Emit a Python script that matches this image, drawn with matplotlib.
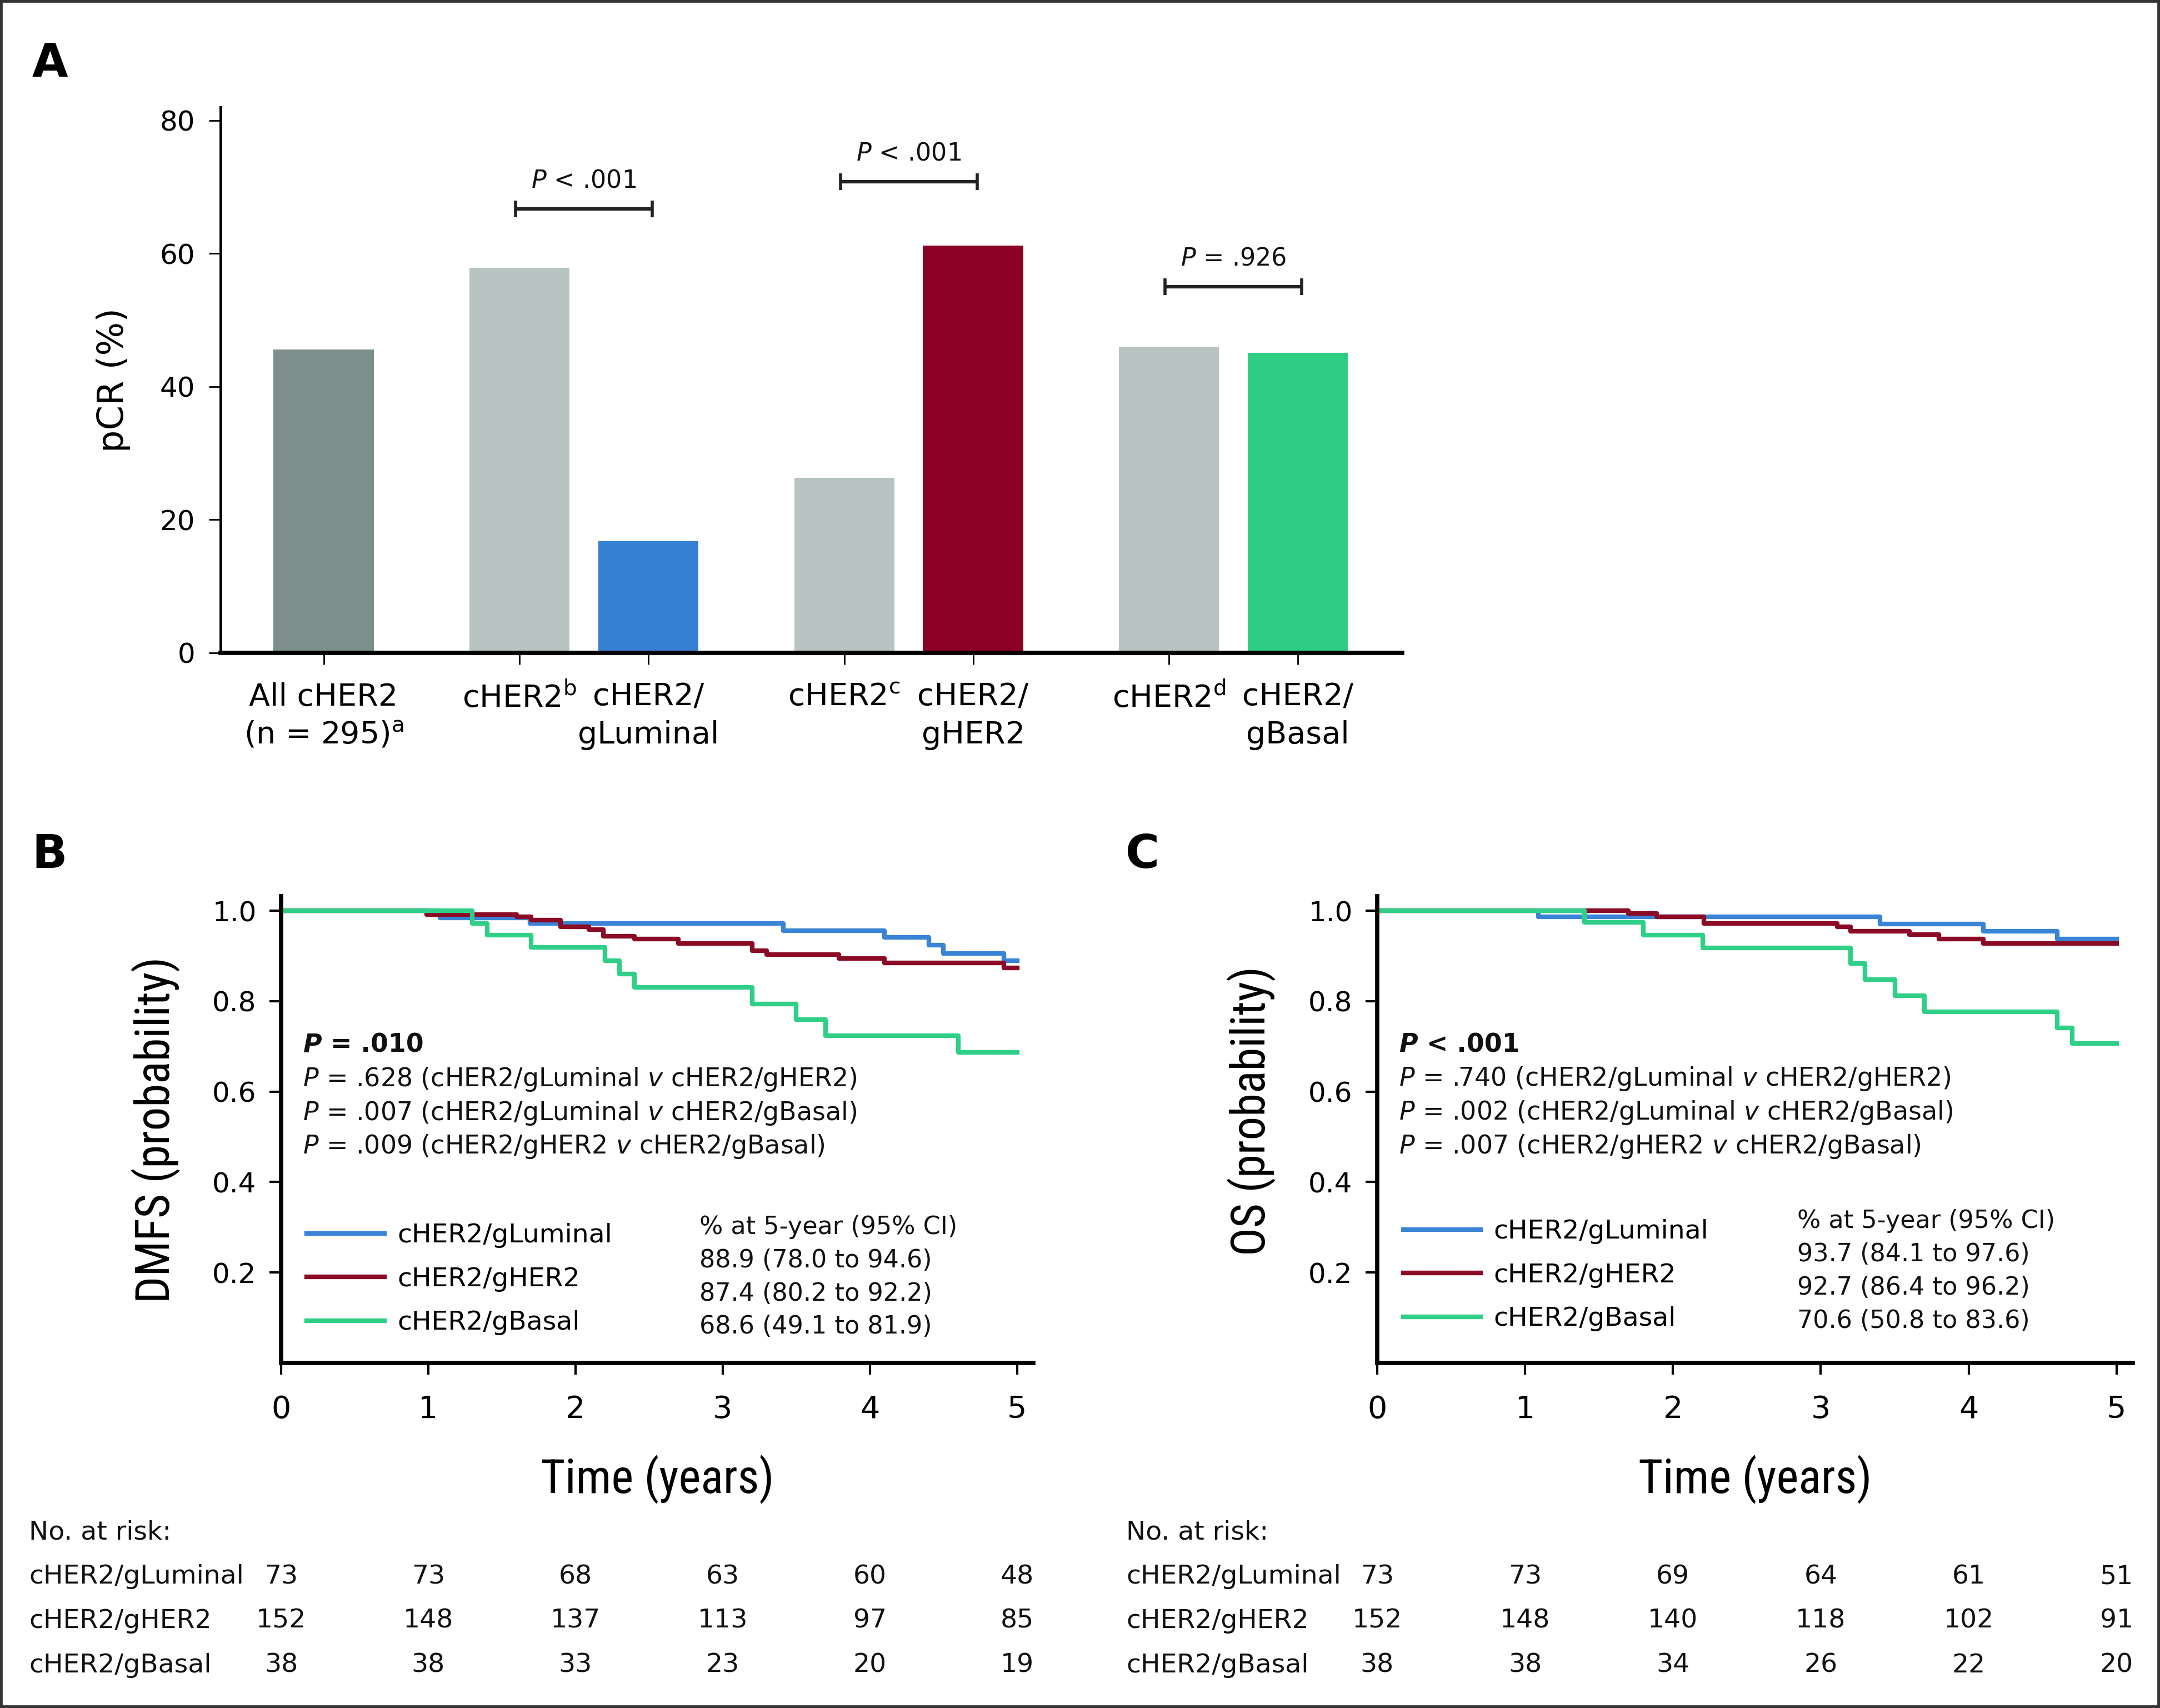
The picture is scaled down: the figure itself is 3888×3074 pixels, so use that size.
import matplotlib
matplotlib.use('Agg')
import matplotlib.pyplot as plt
import matplotlib.transforms as mtransforms
from matplotlib import font_manager
from matplotlib.patches import Rectangle

plt.rcParams['font.family'] = ['DejaVu Sans']
plt.rcParams['mathtext.fontset'] = 'dejavusans'

# ---- panel A data ----
bar_groups = [1, 2, 2, 2]   # bars per group
bar_labels = ['All cHER2\n(n = 295)$^{\\mathrm{a}}$', 'cHER2$^{\\mathrm{b}}$', 'cHER2/\ngLuminal',
              'cHER2$^{\\mathrm{c}}$', 'cHER2/\ngHER2', 'cHER2$^{\\mathrm{d}}$', 'cHER2/\ngBasal']
pcr = [45.6, 57.9, 16.8, 26.3, 61.2, 45.9, 45.1]
bar_colors = ['#7d8e8b', '#b8c4c2', '#3580d4', '#b8c4c2', '#8b0023', '#b8c4c2', '#2ecc85']
brackets = [(1, 2), (3, 4), (5, 6)]
bracket_y = [66.7, 70.8, 55.0]
bracket_p = ['< .001', '< .001', '= .926']

# ---- KM data ----
km_names = ['cHER2/gLuminal', 'cHER2/gHER2', 'cHER2/gBasal']
km_colors = ['#3a84d6', '#8b0a26', '#2fcf88']

dmfs_t = [[0, 1.08, 1.69, 3.41, 4.10, 4.40, 4.50, 4.91, 5.0],
          [0, 0.99, 1.60, 1.70, 1.90, 2.09, 2.19, 2.40, 2.70, 3.20, 3.30, 3.79, 4.10, 4.91, 5.0],
          [0, 1.30, 1.40, 1.70, 2.20, 2.30, 2.40, 3.20, 3.50, 3.70, 4.60, 5.0]]
dmfs_s = [[1.0, 0.984, 0.972, 0.956, 0.941, 0.924, 0.906, 0.889, 0.889],
          [1.0, 0.992, 0.986, 0.979, 0.965, 0.958, 0.944, 0.937, 0.928, 0.911, 0.903, 0.894, 0.884, 0.874, 0.874],
          [1.0, 0.972, 0.946, 0.919, 0.889, 0.860, 0.831, 0.794, 0.759, 0.724, 0.687, 0.687]]

os_t = [[0, 1.09, 3.40, 4.10, 4.60, 5.0],
        [0, 1.70, 1.89, 2.21, 3.11, 3.20, 3.60, 3.80, 4.10, 5.0],
        [0, 1.40, 1.80, 2.20, 3.20, 3.30, 3.50, 3.70, 4.60, 4.70, 5.0]]
os_s = [[1.0, 0.987, 0.971, 0.955, 0.938, 0.938],
        [1.0, 0.994, 0.987, 0.972, 0.965, 0.955, 0.947, 0.938, 0.928, 0.928],
        [1.0, 0.974, 0.946, 0.918, 0.883, 0.848, 0.812, 0.777, 0.741, 0.706, 0.706]]

dmfs_p = ['= .010', '= .628', '= .007', '= .009']
os_p = ['< .001', '= .740', '= .002', '= .007']
p_pairs = ['(cHER2/gLuminal $\\mathit{v}$ cHER2/gHER2)',
           '(cHER2/gLuminal $\\mathit{v}$ cHER2/gBasal)',
           '(cHER2/gHER2 $\\mathit{v}$ cHER2/gBasal)']
dmfs_ci = ['88.9 (78.0 to 94.6)', '87.4 (80.2 to 92.2)', '68.6 (49.1 to 81.9)']
os_ci = ['93.7 (84.1 to 97.6)', '92.7 (86.4 to 96.2)', '70.6 (50.8 to 83.6)']

risk_years = [0, 1, 2, 3, 4, 5]
dmfs_risk = [[73, 73, 68, 63, 60, 48], [152, 148, 137, 113, 97, 85], [38, 38, 33, 23, 20, 19]]
os_risk = [[73, 73, 69, 64, 61, 51], [152, 148, 140, 118, 102, 91], [38, 38, 34, 26, 22, 20]]

W, H = 3888, 3074
ink = '#111111'


# condensed face for the KM axis titles, if one is installed
def pick_narrow():
    for fam in ['Liberation Sans Narrow', 'Noto Sans Condensed', 'Roboto Condensed']:
        try:
            font_manager.findfont(font_manager.FontProperties(family=fam), fallback_to_default=False)
            return fam, 61
        except ValueError:
            pass
    return 'Liberation Sans', 55


narrow, narrow_size = pick_narrow()

fig = plt.figure(figsize=(W / 100, H / 100), dpi=100)

# ================= panel A =================
axA = fig.add_axes([397 / W, 1 - 1175 / H, 2127 / W, 982 / H])
pos = []
x = 0.0
for n in bar_groups:
    for j in range(n):
        pos.append(x + j)
    x += n - 1 + 1.52
axA.bar(pos, pcr, width=0.777, color=bar_colors)
axA.set_xlim(-0.80, 8.37)
axA.set_ylim(0, 82)
axA.set_yticks([0, 20, 40, 60, 80])
axA.set_xticks(pos, bar_labels)
for s in ['top', 'right']:
    axA.spines[s].set_visible(False)
axA.spines['left'].set_linewidth(3.5)
axA.spines['bottom'].set_linewidth(5.5)
axA.tick_params(axis='y', length=15, width=2, labelsize=36, pad=18)
axA.tick_params(axis='x', length=15, width=2, labelsize=40, pad=23)
for t in axA.get_xticklabels():
    t.set_linespacing(1.35)
axA.set_ylabel('pCR (%)', fontsize=46)
axA.yaxis.set_label_coords(-0.076, 0.5)

for (i, j), yb, pt in zip(brackets, bracket_y, bracket_p):
    mid = (pos[i] + pos[j]) / 2
    half = (pos[j] - pos[i]) / 2 + 0.03
    axA.errorbar(mid, yb, xerr=half, fmt='none', ecolor='#222222', elinewidth=4.5,
                 capsize=10.5, capthick=4)
    axA.annotate('$\\mathit{P}$ ' + pt, xy=(mid, yb), xytext=(0, 28), textcoords='offset points',
                 ha='center', va='baseline', fontsize=32, color=ink)


# ================= panels B and C =================
def km_panel(ax, times, survs, ylabel, ylab_y, pvals, ci, y_p, y_ci, y_leg, risk, risk_x0):
    lines = []
    for t, s, c in zip(times, survs, km_colors):
        ln, = ax.step(t, s, where='post', color=c, lw=6)
        lines.append(ln)
    ax.set_xlim(0, 5.11)
    ax.set_ylim(0, 1.032)
    ax.set_xticks([0, 1, 2, 3, 4, 5])
    ax.set_yticks([0.2, 0.4, 0.6, 0.8, 1.0], ['0.2', '0.4', '0.6', '0.8', '1.0'])
    for s in ['top', 'right']:
        ax.spines[s].set_visible(False)
    for s in ['left', 'bottom']:
        ax.spines[s].set_linewidth(5.5)
    ax.tick_params(axis='y', length=15, width=3, labelsize=36, pad=17)
    ax.tick_params(axis='x', length=15, width=3, labelsize=40, pad=26)
    ax.set_xlabel('Time (years)', fontsize=narrow_size, family=narrow)
    ax.xaxis.set_label_coords(0.5, -0.197)
    ax.set_ylabel(ylabel, fontsize=narrow_size, family=narrow)
    ax.yaxis.set_label_coords(-0.134, ylab_y)

    # p values
    step = 0.0748
    t1 = ax.text(0.148, y_p, 'P', fontsize=33, fontweight='bold', style='italic', va='baseline', color=ink)
    ax.annotate(' ' + pvals[0], xy=(1, 0), xycoords=t1, va='bottom', ha='left', fontsize=33,
                fontweight='bold', color=ink)
    for k, (pv, pair) in enumerate(zip(pvals[1:], p_pairs)):
        ax.text(0.148, y_p - (k + 1) * step, '$\\mathit{P}$ ' + pv + ' ' + pair, fontsize=33,
                va='baseline', color=ink)

    # legend + 5-year estimates
    ax.legend(lines, km_names, loc='center left', bbox_to_anchor=(0.175 / 5.11, y_leg / 1.032),
              frameon=False, fontsize=34, handlelength=2.95, handletextpad=0.5, labelspacing=0.71,
              borderpad=0, borderaxespad=0)
    ax.text(2.84, y_ci, '% at 5-year (95% CI)', fontsize=32, va='baseline', color=ink)
    for k, v in enumerate(ci):
        ax.text(2.84, y_ci - (k + 1) * 0.0735, v, fontsize=32, va='baseline', color=ink)

    # number at risk
    tr = mtransforms.blended_transform_factory(ax.transData, fig.transFigure)
    fig.text(risk_x0 / W, 1 - 2758 / H, 'No. at risk:', fontsize=34, va='center', ha='left', color=ink)
    for r, (name, row) in enumerate(zip(km_names, risk)):
        yy = 1 - (2838 + r * 79.5) / H
        fig.text(risk_x0 / W, yy, name, fontsize=34, va='center', ha='left', color=ink)
        for yr, n in zip(risk_years, row):
            ax.text(yr, yy, str(n), transform=tr, fontsize=34, va='center', ha='center', color=ink)


axB = fig.add_axes([506 / W, 1 - 2453 / H, 1354 / W, 840 / H])
km_panel(axB, dmfs_t, dmfs_s, 'DMFS (probability)', 0.5, dmfs_p, dmfs_ci,
         0.687, 0.285, 0.185, dmfs_risk, 52)

axC = fig.add_axes([2479 / W, 1 - 2453 / H, 1360 / W, 840 / H])
km_panel(axC, os_t, os_s, 'OS (probability)', 0.54, os_p, os_ci,
         0.688, 0.298, 0.194, os_risk, 2027)

# panel letters
fig.text(58 / W, 1 - 138 / H, 'A', fontsize=60, fontweight='bold', va='baseline', ha='left')
fig.text(57 / W, 1 - 1562 / H, 'B', fontsize=60, fontweight='bold', va='baseline', ha='left')
fig.text(2026 / W, 1 - 1562 / H, 'C', fontsize=60, fontweight='bold', va='baseline', ha='left')

# outer frame
fig.add_artist(Rectangle((0, 0), 1, 1, transform=fig.transFigure, fill=False, lw=7, edgecolor='#333333'))

fig.savefig('out.png', dpi=100)
